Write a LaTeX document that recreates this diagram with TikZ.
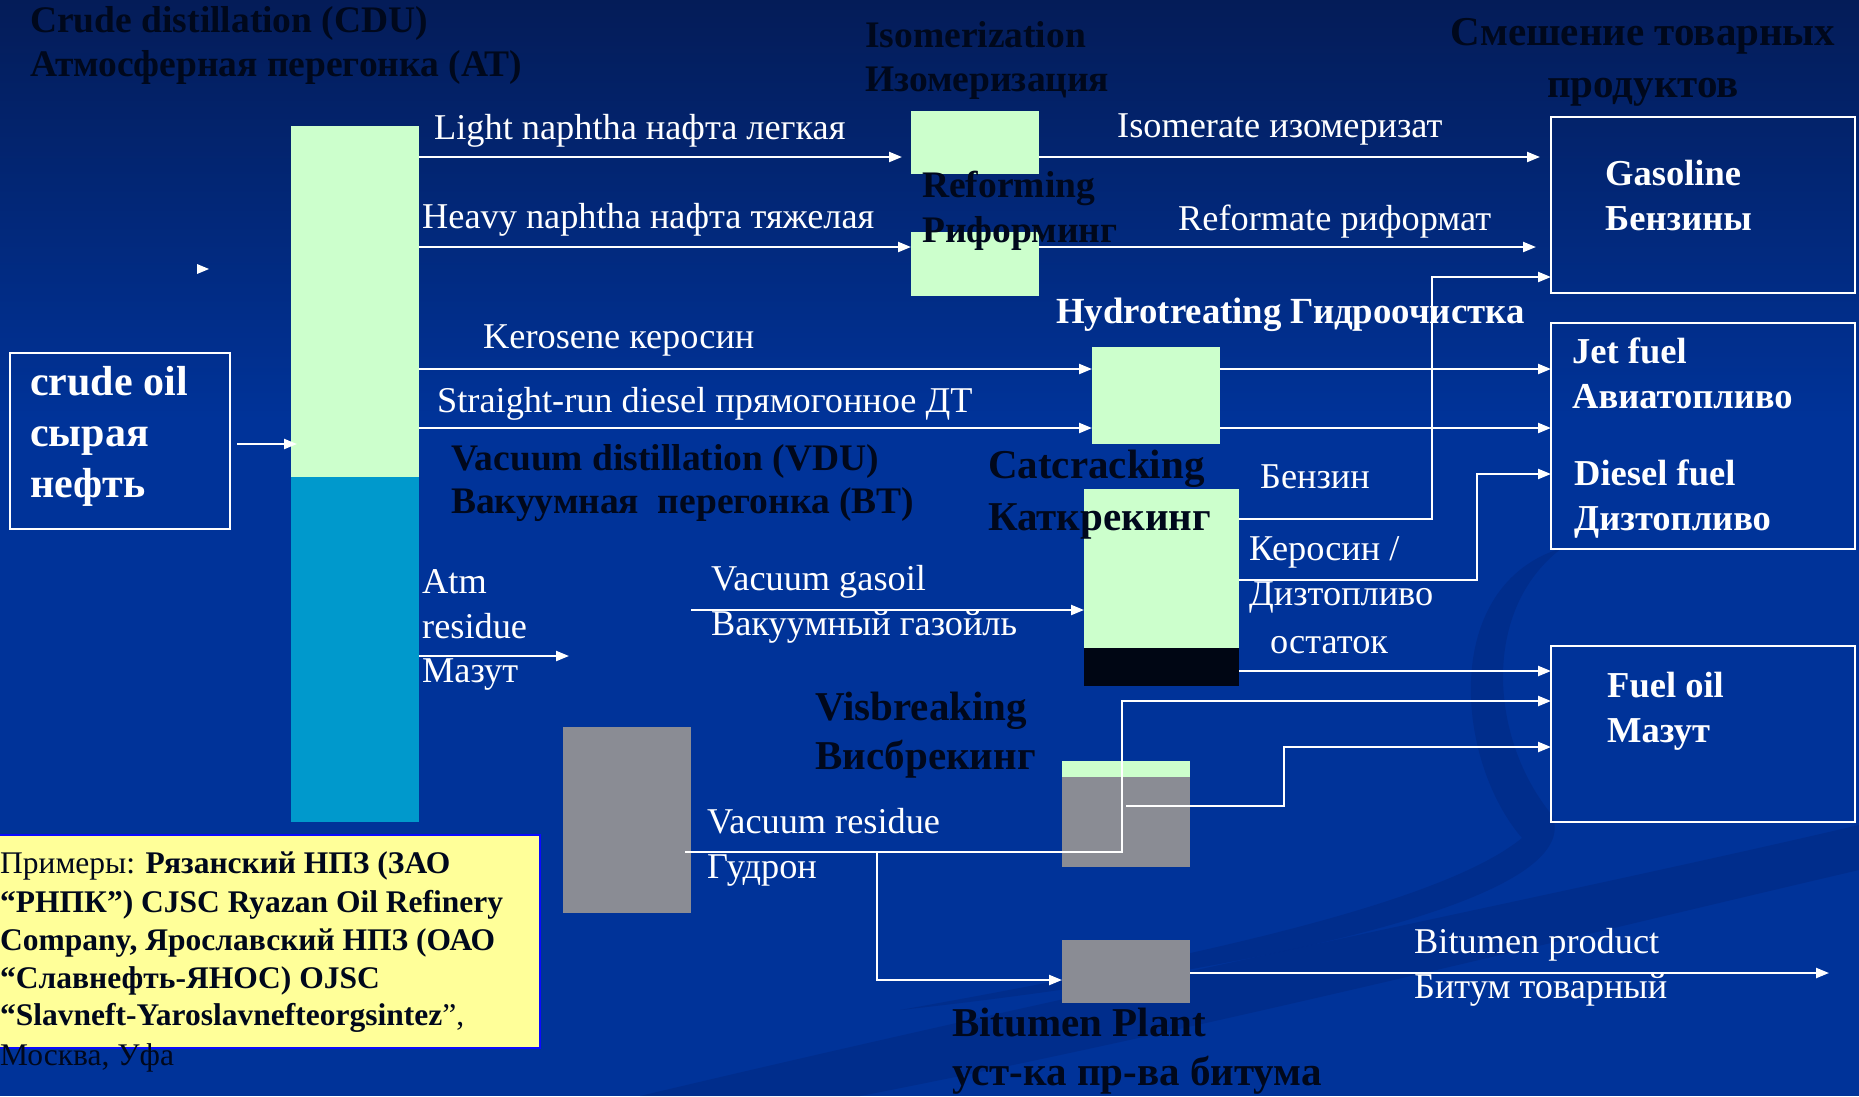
\documentclass[tikz,border=0pt]{standalone}
\usepackage{fontspec}
\setmainfont{Liberation Serif}
\usetikzlibrary{arrows.meta}

\definecolor{bgtop}{RGB}{4,28,88}
\definecolor{bgmain}{RGB}{0,51,153}
\definecolor{swoosh}{RGB}{0,38,125}
\definecolor{pale}{RGB}{204,255,204}
\definecolor{cyanblk}{RGB}{0,153,204}
\definecolor{grayblk}{RGB}{138,140,148}
\definecolor{resblk}{RGB}{0,6,20}
\definecolor{ink}{RGB}{0,8,28}
\definecolor{notebg}{RGB}{255,255,153}
\definecolor{noteedge}{RGB}{10,10,255}

\tikzset{
  blk/.style={anchor=north west, inner sep=0pt, outer sep=0pt, draw=none},
  prodbox/.style={anchor=north west, inner sep=0pt, outer sep=0pt, draw=white, line width=2.2pt},
  flow/.style={draw=white, line width=2.2pt},
  arr/.style={flow, -{Triangle[length=13pt,width=10pt]}},
  ttl/.style={anchor=base west, inner sep=0pt, text=ink, font=\bfseries\fontsize{37.5}{44}\selectfont},
  bigttl/.style={ttl, font=\bfseries\fontsize{41}{48}\selectfont},
  lab/.style={anchor=base west, inner sep=0pt, text=white, font=\fontsize{36.3}{42}\selectfont},
  prod/.style={anchor=base west, inner sep=0pt, text=white, font=\bfseries\fontsize{36.5}{42}\selectfont},
  notetxt/.style={anchor=base west, inner sep=0pt, text=ink, font=\fontsize{31.5}{36}\selectfont},
}

\begin{document}
\begin{tikzpicture}[x=1pt, y=-1pt]
\useasboundingbox (0,0) rectangle (1859,1096);

% background
\shade[top color=bgtop, bottom color=bgmain] (0,0) rectangle (1859,420);
\fill[bgmain] (0,419) rectangle (1859,1096);
\fill[swoosh, opacity=0.45] (1562,548) .. controls (1440,585) and (1455,760) .. (1522,838)
  .. controls (1440,905) and (1180,960) .. (900,1010)
  .. controls (1220,975) and (1590,905) .. (1552,815)
  .. controls (1490,740) and (1480,610) .. (1562,548) -- cycle;
\fill[swoosh, opacity=0.45] (640,1096) .. controls (1150,975) and (1560,895) .. (1859,825)
  -- (1859,870) .. controls (1580,935) and (1200,1030) .. (860,1096) -- cycle;

% process units
\node[blk, fill=pale, minimum width=128pt, minimum height=351pt] (cdutop) at (291,126) {};
\node[blk, fill=cyanblk, minimum width=128pt, minimum height=345pt] (cdubot) at (291,477) {};
\node[blk, fill=pale, minimum width=128pt, minimum height=63pt] (iso) at (911,111) {};
\node[blk, fill=pale, minimum width=128pt, minimum height=64pt] (ref) at (911,232) {};
\node[blk, fill=pale, minimum width=128pt, minimum height=97pt] (hdt) at (1092,347) {};
\node[blk, fill=pale, minimum width=155pt, minimum height=159pt] (fcc) at (1084,489) {};
\node[blk, fill=resblk, minimum width=155pt, minimum height=38pt] (fccres) at (1084,648) {};
\node[blk, fill=grayblk, minimum width=128pt, minimum height=186pt] (vac) at (563,727) {};
\node[blk, fill=pale, minimum width=128pt, minimum height=16pt] (vbtop) at (1062,761) {};
\node[blk, fill=grayblk, minimum width=128pt, minimum height=90pt] (vb) at (1062,777) {};
\node[blk, fill=grayblk, minimum width=128pt, minimum height=63pt] (bit) at (1062,940) {};

% feed and product boxes
\node[prodbox, minimum width=220pt, minimum height=176pt] (crude) at (10,353) {};
\node[prodbox, minimum width=304pt, minimum height=176pt] (gas) at (1551,117) {};
\node[prodbox, minimum width=304pt, minimum height=226pt] (jet) at (1551,323) {};
\node[prodbox, minimum width=304pt, minimum height=176pt] (fo) at (1551,646) {};

% reference plants
\node[blk, fill=notebg, draw=noteedge, line width=2pt, minimum width=546pt, minimum height=213pt] (note) at (-6,835) {};

% unit titles
\node[ttl] (t1a) at (30,32) {Crude distillation (CDU)};
\node[ttl] (t1b) at (30,76) {Атмосферная перегонка (АТ)};
\node[ttl] (t2a) at (865,47) {Isomerization};
\node[ttl] (t2b) at (865,91) {Изомеризация};
\node[ttl] (t3a) at (922,197) {Reforming};
\node[ttl] (t3b) at (922,242) {Риформинг};
\node[bigttl, anchor=base] (t4a) at (1643,45) {Смешение товарных};
\node[bigttl, anchor=base] (t4b) at (1643,97) {продуктов};
\node[ttl, text=white, font=\bfseries\fontsize{36.8}{42}\selectfont] (t5) at (1056,323) {Hydrotreating Гидроочистка};
\node[ttl] (t6a) at (451,470) {Vacuum distillation (VDU)};
\node[ttl] (t6b) at (451,513) {Вакуумная\ \ перегонка (ВТ)};
\node[bigttl] (t7a) at (988,478) {Catcracking};
\node[bigttl] (t7b) at (988,530) {Каткрекинг};
\node[bigttl] (t8a) at (815,720) {Visbreaking};
\node[bigttl] (t8b) at (815,769) {Висбрекинг};
\node[bigttl] (t9a) at (952,1036) {Bitumen Plant};
\node[bigttl] (t9b) at (952,1085) {уст-ка пр-ва битума};

% stream labels
\node[lab] (l1) at (434,139) {Light naphtha нафта легкая};
\node[lab] (l2) at (422,228) {Heavy naphtha нафта тяжелая};
\node[lab] (l3) at (1117,137) {Isomerate изомеризат};
\node[lab] (l4) at (1178,230) {Reformate риформат};
\node[lab] (l5) at (483,348) {Kerosene керосин};
\node[lab] (l6) at (437,412) {Straight-run diesel прямогонное ДТ};
\node[lab] (l7a) at (422,593) {Atm};
\node[lab] (l7b) at (422,638) {residue};
\node[lab] (l7c) at (422,682) {Мазут};
\node[lab] (l8a) at (711,590) {Vacuum gasoil};
\node[lab] (l8b) at (711,635) {Вакуумный газойль};
\node[lab] (l9) at (1260,488) {Бензин};
\node[lab] (l10a) at (1249,560) {Керосин /};
\node[lab] (l10b) at (1249,605) {Дизтопливо};
\node[lab] (l10c) at (1270,653) {остаток};
\node[lab] (l11a) at (707,833) {Vacuum residue};
\node[lab] (l11b) at (707,878) {Гудрон};
\node[lab] (l12a) at (1414,953) {Bitumen product};
\node[lab] (l12b) at (1414,998) {Битум товарный};

% feed and product names
\node[prod, font=\bfseries\fontsize{42}{48}\selectfont] (p0a) at (30,395) {crude oil};
\node[prod, font=\bfseries\fontsize{42}{48}\selectfont] (p0b) at (30,446) {сырая};
\node[prod, font=\bfseries\fontsize{42}{48}\selectfont] (p0c) at (30,497) {нефть};
\node[prod] (p1a) at (1605,185) {Gasoline};
\node[prod] (p1b) at (1605,230) {Бензины};
\node[prod] (p2a) at (1572,363) {Jet fuel};
\node[prod] (p2b) at (1572,408) {Авиатопливо};
\node[prod] (p3a) at (1574,485) {Diesel fuel};
\node[prod] (p3b) at (1574,530) {Дизтопливо};
\node[prod] (p4a) at (1607,697) {Fuel oil};
\node[prod] (p4b) at (1607,742) {Мазут};

% example refineries
\node[notetxt] (n1) at (0,873) {Примеры: \textbf{Рязанский НПЗ (ЗАО}};
\node[notetxt] (n2) at (0,912) {\textbf{“РНПК”) CJSC Ryazan Oil Refinery}};
\node[notetxt] (n3) at (0,950) {\textbf{Company, Ярославский НПЗ (ОАО}};
\node[notetxt] (n4) at (0,988) {\textbf{“Славнефть-ЯНОС) OJSC}};
\node[notetxt] (n5) at (0,1025) {\textbf{“Slavneft-Yaroslavnefteorgsintez}”,};
\node[notetxt] (n6) at (0,1065) {Москва, Уфа};

% loose arrowhead
\fill[white] (197,264) -- (209,269) -- (197,274) -- cycle;

% free ends
\coordinate (atmend) at (569,656);
\coordinate (bitend) at (1829,973);
\coordinate (vrsplit) at (877,852);

% streams
\draw[arr, shorten <=7pt, shorten >=-6pt] (crude.east |- 0,444) -- (cdutop.west |- 0,444);
\draw[arr, shorten >=9pt] (cdutop.east |- 0,157) -- (iso.west |- 0,157);
\draw[arr] (cdutop.east |- 0,247) -- (ref.west |- 0,247);
\draw[arr, shorten >=11pt] (iso.east |- 0,157) -- (gas.west |- 0,157);
\draw[arr, shorten >=15pt] (ref.east |- 0,247) -- (gas.west |- 0,247);
\draw[arr] (cdutop.east |- 0,369) -- (hdt.west |- 0,369);
\draw[arr] (cdutop.east |- 0,428) -- (hdt.west |- 0,428);
\draw[arr] (hdt.east |- 0,369) -- (jet.west |- 0,369);
\draw[arr] (hdt.east |- 0,428) -- (jet.west |- 0,428);
\draw[arr] (cdubot.east |- 0,656) -- (atmend);
\draw[arr] (vac.east |- 0,610) -- (fcc.west |- 0,610);
\draw[arr] (fcc.east |- 0,519) -- (1432,519) |- (gas.west |- 0,277);
\draw[arr] (fcc.east |- 0,580) -- (1477,580) |- (jet.west |- 0,474);
\draw[arr] (fccres.east |- 0,671) -- (fo.west |- 0,671);
\draw[arr, shorten <=-6pt] (vac.east |- 0,852) -- (1122,852) |- (fo.west |- 0,701);
\draw[arr] (vrsplit) |- (bit.west |- 0,980);
\draw[arr] (vb.center |- 0,806) -- (1284,806) |- (fo.west |- 0,747);
\draw[arr] (bit.east |- 0,973) -- (bitend);
\end{tikzpicture}
\end{document}
